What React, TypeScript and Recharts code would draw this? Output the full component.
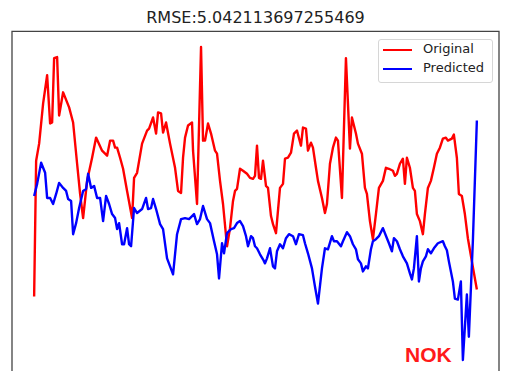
import React from "react";
import { LineChart, Line, XAxis, YAxis, Legend, ReferenceArea } from "recharts";

// time index (trading-step units) and values
const origT = [0, 2, 5, 9, 13, 16, 18, 20, 23, 25, 29, 33, 35, 39, 43, 46, 49, 53, 58, 62, 68, 71, 73, 76, 79, 81, 83, 86, 89, 93, 98, 100, 103, 108, 113, 115, 119, 122, 124, 127, 129, 132, 136, 141, 144, 147, 149, 151, 154, 158, 159, 163, 167, 169, 171, 174, 177, 181, 183, 186, 189, 193, 196, 199, 201, 203, 206, 209, 213, 216, 219, 221, 223, 225, 227, 229, 232, 234, 237, 239, 242, 246, 249, 251, 254, 257, 260, 263, 267, 269, 272, 274, 277, 279, 282, 284, 288, 291, 293, 296, 299, 302, 304, 308, 312, 316, 318, 322, 324, 328, 331, 333, 336, 339, 342, 345, 349, 352, 355, 359, 361, 363, 366, 369, 371, 373, 376, 379, 381, 383, 386, 389, 391, 394, 397, 400, 403, 406, 409, 412, 414, 418, 420, 423, 425, 428, 431, 434, 438, 443];
const origV = [8.5, 22.0, 23.7, 27.7, 30.5, 25.7, 25.8, 32.2, 32.3, 26.5, 28.8, 27.8, 27.3, 25.8, 21.7, 18.7, 16.3, 20.0, 22.3, 24.3, 23.0, 22.7, 22.5, 24.0, 24.0, 23.3, 23.3, 22.3, 21.2, 19.0, 16.3, 20.3, 20.8, 23.7, 25.0, 25.2, 26.3, 24.7, 26.8, 26.7, 24.8, 25.8, 23.7, 21.3, 19.0, 18.8, 22.3, 24.3, 25.5, 25.8, 23.0, 17.7, 33.3, 24.0, 24.0, 25.7, 24.7, 23.0, 22.7, 20.0, 17.7, 13.5, 15.3, 18.0, 19.0, 19.2, 21.2, 21.0, 20.7, 20.3, 20.2, 20.5, 23.5, 20.3, 20.2, 22.0, 19.5, 19.3, 16.5, 15.7, 14.8, 19.3, 19.7, 22.2, 22.3, 22.8, 24.7, 25.0, 23.5, 25.3, 25.2, 23.0, 23.8, 23.3, 21.3, 20.0, 18.3, 16.8, 17.7, 21.7, 23.3, 24.3, 24.0, 18.3, 32.2, 23.2, 26.3, 24.7, 23.7, 22.7, 19.3, 18.7, 16.0, 14.2, 16.7, 19.3, 20.0, 21.3, 21.2, 21.0, 20.5, 20.7, 21.7, 22.2, 19.7, 22.3, 21.3, 19.3, 19.0, 16.7, 16.0, 14.7, 16.7, 19.3, 20.0, 21.3, 22.7, 23.3, 24.2, 24.3, 24.0, 24.2, 24.6, 22.3, 18.7, 18.5, 16.7, 14.3, 12.0, 9.2];

const predT = [0, 3, 7, 11, 13, 16, 19, 22, 25, 29, 32, 34, 37, 39, 42, 45, 49, 52, 54, 57, 60, 63, 66, 69, 72, 75, 78, 81, 83, 85, 88, 90, 93, 95, 97, 100, 103, 108, 112, 114, 117, 119, 122, 126, 129, 133, 136, 139, 143, 147, 151, 155, 158, 160, 163, 166, 169, 173, 176, 180, 183, 185, 188, 190, 193, 197, 200, 203, 206, 209, 212, 214, 217, 219, 221, 223, 226, 229, 231, 233, 236, 239, 241, 243, 246, 249, 252, 255, 259, 262, 265, 269, 271, 274, 278, 281, 284, 288, 291, 294, 298, 300, 303, 307, 309, 313, 316, 319, 322, 324, 327, 329, 332, 334, 337, 339, 342, 345, 349, 353, 355, 358, 360, 363, 366, 369, 373, 376, 378, 380, 383, 385, 387, 389, 392, 394, 397, 400, 404, 409, 411, 413, 415, 419, 421, 424, 427, 429, 433, 435, 439, 443];
const predV = [18.5, 19.7, 21.8, 20.8, 18.3, 18.3, 17.7, 18.7, 19.8, 19.3, 19.0, 18.2, 18.0, 14.7, 15.8, 17.3, 19.0, 19.2, 20.7, 19.3, 19.5, 18.3, 18.3, 16.0, 18.5, 17.7, 16.7, 16.3, 15.2, 15.8, 13.7, 13.7, 15.3, 13.7, 13.5, 17.3, 16.8, 17.2, 18.3, 17.2, 17.3, 18.2, 17.2, 15.7, 15.2, 12.3, 11.5, 10.7, 14.7, 16.2, 16.3, 16.2, 16.5, 16.7, 15.7, 16.2, 17.5, 16.2, 15.8, 14.0, 12.7, 10.3, 13.8, 12.8, 14.8, 15.2, 15.3, 15.8, 16.0, 15.5, 14.5, 13.5, 14.5, 14.3, 13.5, 13.3, 12.7, 12.2, 11.8, 12.3, 13.3, 11.5, 11.3, 13.0, 13.7, 13.3, 14.3, 14.7, 14.5, 13.7, 14.7, 14.6, 13.8, 12.8, 11.3, 9.5, 7.8, 11.3, 13.3, 13.2, 14.5, 14.0, 14.0, 13.5, 14.0, 14.9, 14.5, 13.7, 13.2, 12.2, 11.8, 11.0, 11.5, 11.3, 13.2, 14.0, 14.2, 14.5, 15.3, 14.3, 13.8, 13.0, 14.3, 14.0, 13.2, 12.5, 11.8, 10.8, 10.2, 11.3, 14.5, 10.0, 11.3, 12.0, 12.5, 13.2, 12.8, 13.3, 13.8, 14.0, 13.5, 13.1, 12.0, 10.0, 8.3, 8.2, 10.0, 2.2, 8.7, 4.5, 14.0, 26.0];

const seriesNames = ["Original", "Predicted"];
const titleText = "RMSE:5.042113697255469";
const verdictText = "NOK";

const origData = origT.map((t, i) => ({ t, v: origV[i] }));
const predData = predT.map((t, i) => ({ t, v: predV[i] }));

// matplotlib-style 5% margins
const allT = [...origT, ...predT];
const allV = [...origV, ...predV];
const tMin = Math.min(...allT), tMax = Math.max(...allT);
const vMin = Math.min(...allV), vMax = Math.max(...allV);
const tPad = (tMax - tMin) * 0.05;
const vPad = (vMax - vMin) * 0.05;
const xDomain: [number, number] = [tMin - tPad, tMax + tPad];
const yDomain: [number, number] = [vMin - vPad, vMax + vPad];

const FONT = "'DejaVu Sans', sans-serif";

const renderLegend = (props: any) => {
  const payload = props.payload || [];
  return (
    <div
      style={{
        position: "relative",
        width: 115,
        height: 44,
        boxSizing: "border-box",
        border: "1px solid #d6d6d6",
        borderRadius: 3,
        background: "rgba(255,255,255,0.85)",
        fontFamily: FONT,
        fontSize: 13,
        color: "#222",
      }}
    >
      {payload.map((p: any, i: number) => (
        <div key={i} style={{ position: "absolute", left: 4, top: 2 + i * 19, height: 16, width: 110 }}>
          <div style={{ position: "absolute", left: 0, top: 7, width: 29, height: 2, background: p.color }} />
          <span style={{ position: "absolute", left: 40, top: -1, lineHeight: "16px", whiteSpace: "nowrap" }}>{p.value}</span>
        </div>
      ))}
    </div>
  );
};

export default function App() {
  return (
    <div style={{ position: "absolute", left: 0, top: 0, width: 506, height: 371, overflow: "hidden", background: "#fff" }}>
      <div
        style={{
          position: "absolute",
          left: 0,
          width: 511,
          top: 8,
          textAlign: "center",
          fontFamily: FONT,
          fontSize: 16,
          color: "#222",
          lineHeight: "20px",
          whiteSpace: "nowrap",
        }}
      >
        {titleText}
      </div>
      <LineChart width={506} height={380} margin={{ top: 31.4, left: 12, right: 7, bottom: 4.4 }}>
        <XAxis type="number" dataKey="t" domain={xDomain} hide allowDataOverflow />
        <YAxis type="number" dataKey="v" domain={yDomain} hide allowDataOverflow />
        <ReferenceArea
          x1={xDomain[0]}
          x2={xDomain[1]}
          y1={yDomain[0]}
          y2={yDomain[1]}
          fill="none"
          stroke="#444"
          strokeWidth={1.3}
          ifOverflow="visible"
        />
        <Line
          data={origData}
          dataKey="v"
          name={seriesNames[0]}
          stroke="#ff0000"
          strokeWidth={2.4}
          dot={false}
          isAnimationActive={false}
          strokeLinejoin="round"
        />
        <Line
          data={predData}
          dataKey="v"
          name={seriesNames[1]}
          stroke="#0000ff"
          strokeWidth={2.4}
          dot={false}
          isAnimationActive={false}
          strokeLinejoin="round"
        />
        <Legend
          layout="vertical"
          verticalAlign="middle"
          align="center"
          content={renderLegend}
          wrapperStyle={{ position: "absolute", left: 378, top: 39, width: 115, height: 44 }}
        />
      </LineChart>
      <div
        style={{
          position: "absolute",
          left: 405,
          top: 343,
          fontFamily: "'Liberation Sans', Arial, sans-serif",
          fontWeight: "bold",
          fontSize: 21,
          lineHeight: "24px",
          color: "#ff1a1a",
        }}
      >
        {verdictText}
      </div>
    </div>
  );
}
